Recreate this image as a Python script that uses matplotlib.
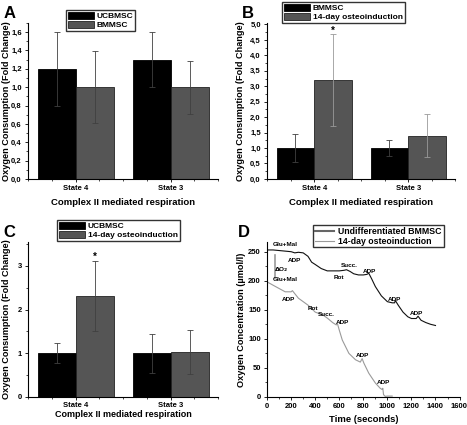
import matplotlib
matplotlib.use('Agg')
import matplotlib.pyplot as plt
from matplotlib.ticker import MultipleLocator, FuncFormatter, FixedLocator

plt.rcParams['font.family'] = ['Liberation Sans', 'DejaVu Sans']
plt.rcParams['font.weight'] = 'bold'
plt.rcParams['axes.linewidth'] = 0.8

# ---- data ----
states = ['State 4', 'State 3']

a_names = ['UCBMSC', 'BMMSC']
a_ucb = [1.2, 1.3]
a_ucb_err = [0.4, 0.3]
a_bm = [1.0, 1.0]
a_bm_err = [0.39, 0.29]

b_names = ['BMMSC', '14-day osteoinduction']
b_bm = [1.0, 1.0]
b_bm_err = [0.46, 0.27]
b_ost = [3.2, 1.4]
b_ost_err = [1.5, 0.7]

c_names = ['UCBMSC', '14-day osteoinduction']
c_ucb = [1.0, 1.0]
c_ucb_err = [0.23, 0.45]
c_ost = [2.3, 1.03]
c_ost_err = [0.8, 0.5]

# panel D traces (time in s, O2 in umol/l)
undiff_t = [0, 50, 100, 150, 200, 230, 260, 300, 340, 370, 400, 450, 500, 550,
            600, 640, 660, 690, 720, 760, 800, 830, 845, 870, 900, 950, 1000,
            1040, 1060, 1066, 1090, 1130, 1170, 1200, 1240, 1255, 1280, 1320,
            1360, 1400]
undiff_c = [253, 253, 252, 251, 250, 248, 249, 248, 242, 232, 228, 221, 217,
            217, 217, 218, 219, 216, 212, 210, 210, 211, 213, 203, 190, 174,
            164, 162, 162, 166, 158, 146, 138, 135, 135, 139, 132, 128, 125,
            123]
osteo_t = [0, 70, 150, 200, 210, 260, 340, 400, 465, 505, 545, 575, 585, 600,
           625, 680, 735, 775, 790, 805, 845, 900, 940, 955, 962, 968, 982,
           1000, 1040]
osteo_c = [198, 190, 181, 181, 183, 170, 158, 146, 141, 135, 128, 124, 126,
           115, 98, 75, 64, 60, 66, 58, 41, 24, 15, 13, 15, 4, 1, 1.5, 1.5]

d_labels = ['Glu+Mal', 'ADP', r'$\Delta$O$_2$', 'Glu+Mal', 'ADP', 'Rot', 'Succ.',
            'ADP', 'ADP', 'ADP', 'Rot', 'Succ.', 'ADP', 'ADP', 'ADP']
d_label_t = [150, 225, 115, 150, 180, 380, 495, 630, 795, 968, 600, 680, 855,
             1057, 1241]
d_label_c = [262, 234, 220, 203, 168, 152, 142, 128, 71, 25, 206, 226, 216,
             168, 143]

BLACK = '#000000'
GRAY = '#555555'


def comma(v, pos):
    return ('%.1f' % v).replace('.', ',')


def bar_panel(rect, letter, names, v1, e1, v2, e2, ymax, ymajor, yminor,
              fmt, leg_xy, star=None, xlab_y=-0.12, ebc2='#404040',
              xlab_size=6.8, xpad=2):
    ax = fig.add_axes(rect)
    pos = [1, 2]
    w = 0.4
    ax.bar([p - w / 2 for p in pos], v1, w, color=BLACK, edgecolor=BLACK,
           linewidth=0.6, label=names[0], zorder=2)
    ax.bar([p + w / 2 for p in pos], v2, w, color=GRAY, edgecolor='#222222',
           linewidth=0.6, label=names[1], zorder=2)
    ax.errorbar([p - w / 2 for p in pos], v1, yerr=e1, fmt='none',
                ecolor='#404040', elinewidth=0.6, capsize=2, capthick=0.6,
                zorder=3)
    ax.errorbar([p + w / 2 for p in pos], v2, yerr=e2, fmt='none',
                ecolor=ebc2, elinewidth=0.6, capsize=2, capthick=0.6,
                zorder=3)
    if star is not None:
        ax.text(1 + w / 2, star, '*', ha='center', va='center', fontsize=7,
                zorder=6)
    ax.set_xlim(0.5, 2.5)
    ax.set_ylim(0, ymax)
    ax.xaxis.set_major_locator(FixedLocator(pos))
    ax.xaxis.set_minor_locator(MultipleLocator(0.25))
    ax.set_xticklabels(states)
    ax.yaxis.set_major_locator(MultipleLocator(ymajor))
    ax.yaxis.set_minor_locator(MultipleLocator(yminor))
    if fmt:
        ax.yaxis.set_major_formatter(FuncFormatter(comma))
    for s in ['top', 'right']:
        ax.spines[s].set_visible(False)
    ax.tick_params(labelsize=5.5, length=2.5, width=0.6, pad=2)
    ax.tick_params(axis='x', pad=xpad)
    ax.tick_params(which='minor', length=1.5, width=0.5)
    ax.set_ylabel('Oxygen Consumption (Fold Change)', fontsize=6.6,
                  fontweight='bold')
    ax.set_xlabel('Complex II mediated respiration', fontsize=xlab_size,
                  fontweight='bold')
    ax.xaxis.set_label_coords(0.5, xlab_y)
    ax.legend(loc='upper left', bbox_to_anchor=leg_xy,
              bbox_transform=fig.transFigure, fontsize=6, frameon=True,
              fancybox=False, edgecolor='#333333', framealpha=1,
              handlelength=3.2, handleheight=0.9, borderpad=0.2,
              labelspacing=0.1, handletextpad=0.3, borderaxespad=0)
    fig.text(rect[0] - 0.053, rect[1] + rect[3] + 0.005, letter,
             fontsize=12, fontweight='bold', va='bottom')
    return ax


fig = plt.figure(figsize=(4.67, 4.25), dpi=100)

axA = bar_panel([0.060, 0.579, 0.407, 0.367], 'A', a_names, a_ucb, a_ucb_err,
                a_bm, a_bm_err, 1.7, 0.2, 0.1, True,
                (66 / 467, 1 - 10 / 425))
axA.yaxis.set_label_coords(-0.092, 0.5)

axB = bar_panel([0.572, 0.579, 0.403, 0.367], 'B', b_names, b_bm, b_bm_err,
                b_ost, b_ost_err, 5.05, 0.5, 0.25, True,
                (282 / 467, 1 - 2 / 425), star=4.78, ebc2='#9a9a9a')
axB.yaxis.set_label_coords(-0.115, 0.5)

axC = bar_panel([0.060, 0.066, 0.407, 0.365], 'C', c_names, c_ucb, c_ucb_err,
                c_ost, c_ost_err, 3.55, 1, 0.5, False,
                (57 / 467, 1 - 220 / 425), star=3.2, xlab_y=-0.082,
                xlab_size=6.5, xpad=1)
axC.yaxis.set_label_coords(-0.092, 0.5)

# ---- panel D ----
axD = fig.add_axes([0.572, 0.066, 0.412, 0.365])
axD.plot(undiff_t, undiff_c, color='#111111', lw=0.8,
         label='Undifferentiated BMMSC')
axD.plot(osteo_t, osteo_c, color='#9a9a9a', lw=0.8,
         label='14-day osteoinduction')
axD.plot([62, 62], [205, 245], color='#9a9a9a', lw=1.2)
for lab, tx, cy in zip(d_labels, d_label_t, d_label_c):
    axD.text(tx, cy, lab, fontsize=4.6, ha='center', va='center')
axD.set_xlim(0, 1600)
axD.set_ylim(0, 267)
axD.xaxis.set_major_locator(MultipleLocator(200))
axD.xaxis.set_minor_locator(MultipleLocator(100))
axD.yaxis.set_major_locator(MultipleLocator(50))
axD.yaxis.set_minor_locator(MultipleLocator(25))
for s in ['top', 'right']:
    axD.spines[s].set_visible(False)
axD.tick_params(labelsize=5.5, length=2.5, width=0.6, pad=2)
axD.tick_params(which='minor', length=1.5, width=0.5)
axD.set_xlabel('Time (seconds)', fontsize=6.8, fontweight='bold')
axD.set_ylabel('Oxygen Concentration (\u00b5mol/l)', fontsize=6.6,
               fontweight='bold')
axD.xaxis.set_label_coords(0.5, -0.115)
axD.yaxis.set_label_coords(-0.108, 0.5)
leg = axD.legend(loc='upper left', bbox_to_anchor=(313 / 467, 1 - 225 / 425),
                 bbox_transform=fig.transFigure, fontsize=6.3, frameon=True,
                 fancybox=False, edgecolor='#333333', framealpha=1,
                 handlelength=2.2, borderpad=0.2, labelspacing=0.1,
                 handletextpad=0.5, borderaxespad=0)
leg.get_lines()[0].set_color('#666666')
leg.get_lines()[0].set_linewidth(1.5)
fig.text(0.572 - 0.063, 0.066 + 0.365 + 0.005, 'D', fontsize=12,
         fontweight='bold', va='bottom')

fig.savefig('out.png', dpi=100)
